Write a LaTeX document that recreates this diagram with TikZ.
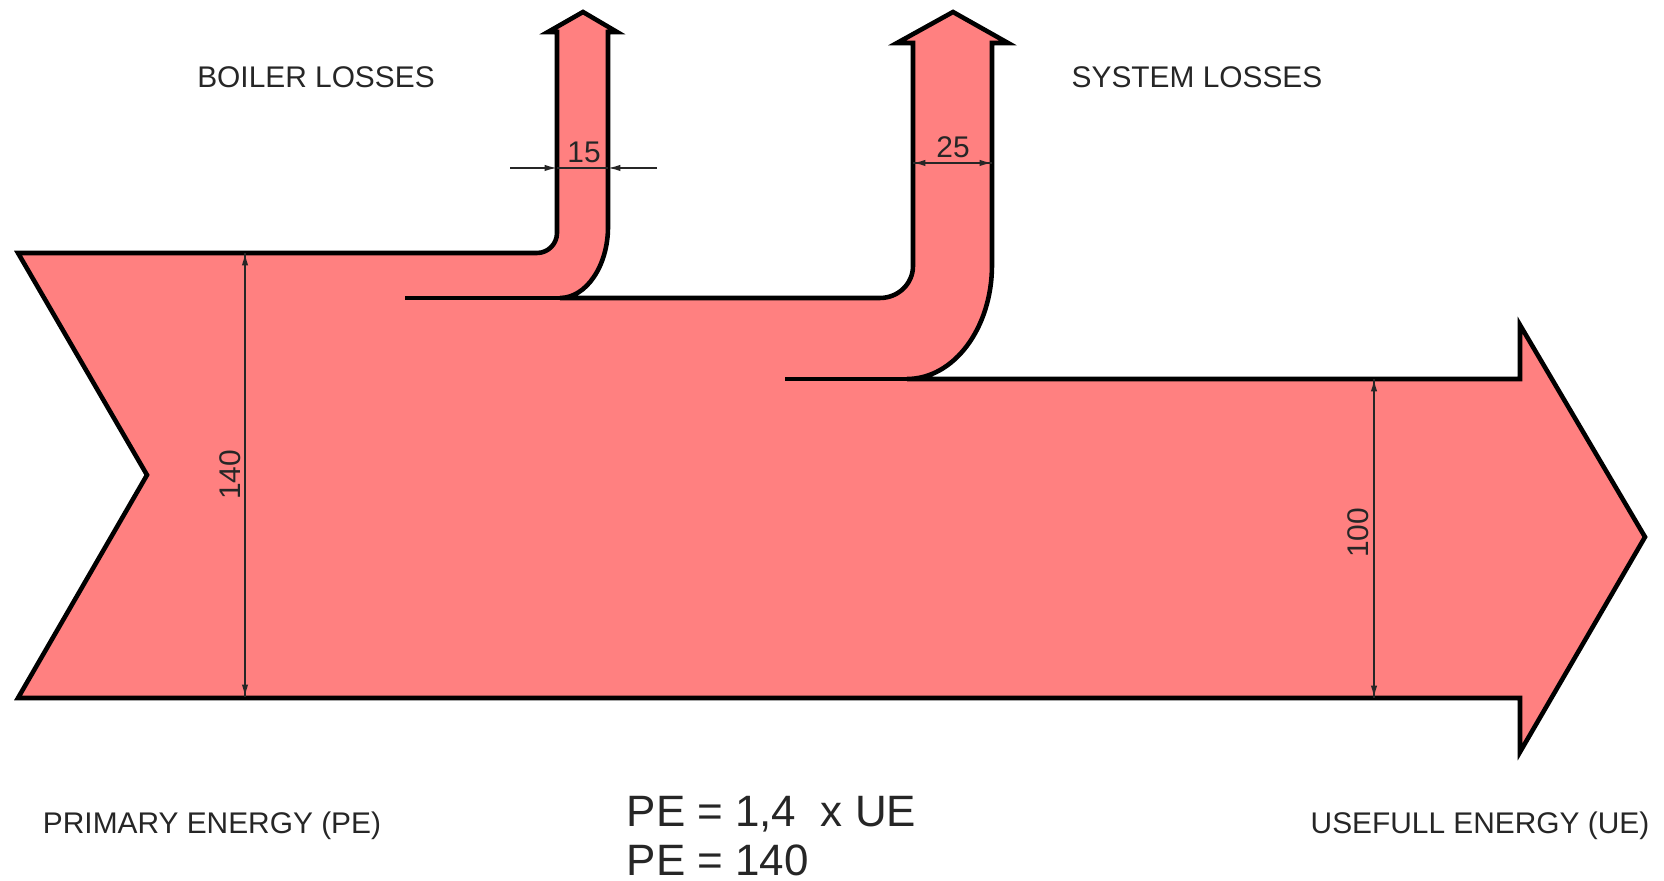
\documentclass[tikz,border=0pt]{standalone}
\usepackage{fontspec}
\setmainfont{Liberation Sans}
\usepackage{tikz}
\usetikzlibrary{arrows.meta}
\definecolor{flujo}{RGB}{255,128,128}
\tikzset{
  contorno/.style={line width=1.3pt, line join=miter},
  cota/.style={line width=0.45pt, draw=black!85},
  punta/.style={-{Latex[length=3.5pt,width=1.8pt]}},
  rotulo/.style={inner sep=0pt, text=black!85, font=\fontsize{8.5}{10}\selectfont},
}

\begin{document}
\begin{tikzpicture}[x=0.1mm,y=-0.1mm]
    \useasboundingbox (0,0) rectangle (1664,881);

    % flecha de energia (entrada 140, perdidas 15 y 25, salida 100)
    \filldraw[contorno, fill=flujo]
      (18,253) -- (537,253) .. controls (548,253) and (557,244) .. (557,233)
      -- (557,32) -- (548,32) -- (583,12) -- (617,32) -- (608,32)
      -- (608,227) .. controls (608,266) and (586,298) .. (560,298)
      -- (880,298) .. controls (898,298) and (913,284) .. (913,266)
      -- (913,43) -- (897,43) -- (953,12) -- (1008,43) -- (992,43)
      -- (992,265) .. controls (992,328) and (954,379) .. (907,379)
      -- (1520,379) -- (1520,325) -- (1645,537) -- (1520,752) -- (1520,698)
      -- (18,698) -- (147,475) -- cycle;
    \draw[contorno] (405,298) -- (560,298);   % limite perdidas caldera
    \draw[contorno] (785,379) -- (907,379);   % limite perdidas sistema

    % cotas
    \coordinate (pe1) at (245,253);
    \coordinate (pe2) at (245,697);
    \coordinate (ue1) at (1374,379);
    \coordinate (ue2) at (1374,698);
    \coordinate (ca0) at (510,168);
    \coordinate (ca1) at (557,168);
    \coordinate (ca2) at (608,168);
    \coordinate (ca3) at (657,168);
    \coordinate (si1) at (913,163);
    \coordinate (si2) at (992,163);

    \draw[cota, punta] (pe1) -- (pe2);
    \draw[cota, punta] (pe2) -- (pe1);
    \draw[cota, punta] (ue1) -- (ue2);
    \draw[cota, punta] (ue2) -- (ue1);
    \draw[cota, punta] (ca0) -- (ca1);
    \draw[cota] (ca1) -- (ca2);
    \draw[cota, punta] (ca3) -- (ca2);
    \draw[cota, punta] (si1) -- (si2);
    \draw[cota, punta] (si2) -- (si1);

    \node[rotulo, rotate=90] (n140) at (230,475) {140};
    \node[rotulo, rotate=90] (n100) at (1358,533) {100};
    \node[rotulo] (n15) at (584,152) {15};
    \node[rotulo] (n25) at (953,147) {25};

    % textos
    \node[rotulo] (caldera) at (316,77) {BOILER LOSSES};
    \node[rotulo] (sistema) at (1197,77) {SYSTEM LOSSES};
    \node[rotulo] (primaria) at (212,826) {PRIMARY ENERGY (PE)};
    \node[rotulo] (util) at (1480,826) {USEFULL ENERGY (UE)};
    \node[rotulo, anchor=west, align=left, font=\fontsize{12.5}{13.9}\selectfont]
      (formula) at (626,836) {PE = 1,4\ \ x UE\\PE = 140};
\end{tikzpicture}
\end{document}
